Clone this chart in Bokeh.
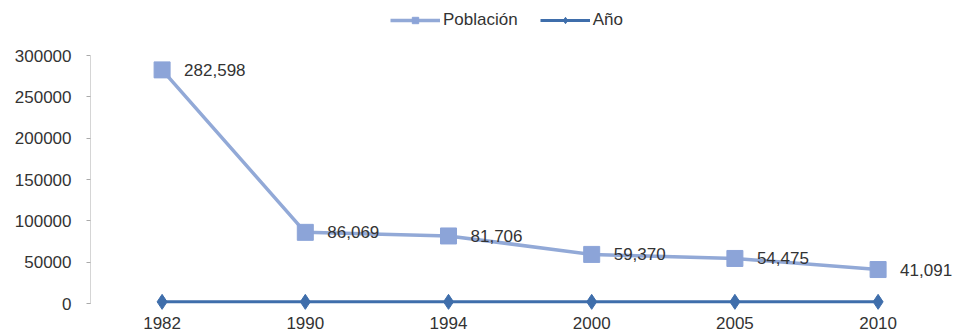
from bokeh.plotting import figure
from bokeh.models import (ColumnDataSource, Range1d, Legend, LegendItem,
                          FixedTicker, BasicTickFormatter)
from bokeh.core.properties import value
from bokeh.embed import file_html
from bokeh.resources import INLINE

# ---- data ----
years = ["1982", "1990", "1994", "2000", "2005", "2010"]
poblacion = [282598, 86069, 81706, 59370, 54475, 41091]
anio = [1982, 1990, 1994, 2000, 2005, 2010]
y_ticks = [0, 50000, 100000, 150000, 200000, 250000, 300000]

FONT = "Liberation Sans"
POP_LINE = "#92A9D7"
POP_MARK = "#8CA4D8"
ANO_COL = "#3F6EAB"
TXT = "#333333"

W, H = 957, 336
frame_left, frame_top, frame_bottom = 90, 0, 311
zero_px = 303
px_per_unit = 248 / 300000.0
y_end = (zero_px - frame_top) / px_per_unit
y_start = -(frame_bottom - zero_px) / px_per_unit
cat_px = 143.2
x_start = -0.5
x_end = x_start + (W - frame_left) / cat_px

idx = list(range(len(years)))
src = ColumnDataSource(dict(x=idx, pop=poblacion, ano=anio,
                            lab=[f"{v:,}" for v in poblacion]))

p = figure(width=W, height=H, x_range=Range1d(x_start, x_end),
           y_range=Range1d(y_start, y_end), output_backend="svg",
           toolbar_location=None, min_border_left=frame_left, min_border_right=0,
           min_border_top=frame_top, min_border_bottom=H - frame_bottom)
p.outline_line_color = None
p.grid.visible = False
p.background_fill_color = "white"
p.border_fill_color = "white"

l1 = p.line("x", "pop", source=src, line_color=POP_LINE, line_width=3.5)
s1 = p.scatter("x", "pop", source=src, marker="square", size=16,
               fill_color=POP_MARK, line_color=POP_MARK)
l2 = p.line("x", "ano", source=src, line_color=ANO_COL, line_width=3)
s2 = p.scatter("x", "ano", source=src, marker="diamond", size=15,
               fill_color=ANO_COL, line_color=ANO_COL)

p.text("x", "pop", text="lab", source=src, x_offset=22, text_align="left",
       text_baseline="middle", text_font=value(FONT), text_font_size="17px",
       text_color=TXT)

# y axis
ya = p.yaxis[0]
ya.ticker = FixedTicker(ticks=y_ticks)
ya.formatter = BasicTickFormatter(use_scientific=False)
ya.bounds = (0, 300000)
ya.axis_line_color = "#AAAAAA"
ya.axis_line_dash = "1 1"
ya.major_tick_line_color = "#AAAAAA"
ya.major_tick_out = 4
ya.major_tick_in = 0
ya.minor_tick_line_color = None
ya.major_label_standoff = 15
ya.major_label_text_font = FONT
ya.major_label_text_font_size = "17px"
ya.major_label_text_color = TXT

# x axis (category positions labelled with the years)
xa = p.xaxis[0]
xa.ticker = FixedTicker(ticks=idx)
xa.major_label_overrides = {i: y for i, y in zip(idx, years)}
xa.axis_line_color = None
xa.major_tick_line_color = None
xa.major_tick_out = 0
xa.major_tick_in = 0
xa.minor_tick_line_color = None
xa.major_label_standoff = 5
xa.major_label_text_font = FONT
xa.major_label_text_font_size = "17px"
xa.major_label_text_color = TXT

legend = Legend(items=[LegendItem(label="Población", renderers=[l1, s1]),
                       LegendItem(label="Año", renderers=[l2, s2])],
                orientation="horizontal", location=(300, frame_bottom - 30),
                glyph_width=50, glyph_height=16, label_standoff=3, spacing=22,
                padding=0, margin=0, border_line_color=None,
                background_fill_alpha=0,
                label_text_font=FONT, label_text_font_size="17px",
                label_text_color=TXT)
p.add_layout(legend)

open("out.html", "w").write(file_html(p, INLINE))
